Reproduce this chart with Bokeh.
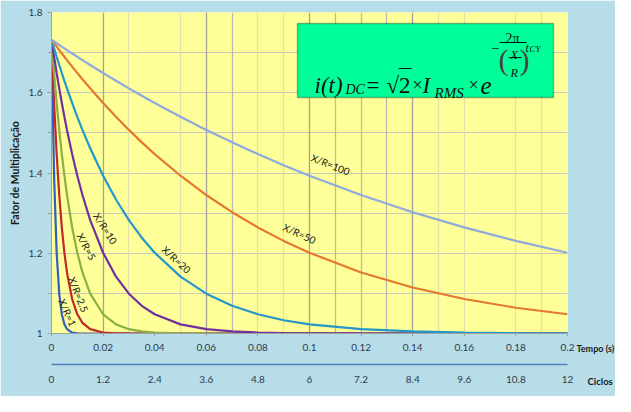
from bokeh.plotting import figure
from bokeh.models import (LinearAxis, Range1d, FixedTicker, NumeralTickFormatter,
                          Grid, Label, BoxAnnotation)
from bokeh.embed import file_html
from bokeh.resources import INLINE

# ---------------- data ----------------
t = [0, 0.001, 0.002, 0.003, 0.004, 0.005, 0.006, 0.008, 0.01, 0.012, 0.015,
     0.02, 0.025, 0.03, 0.035, 0.04, 0.05, 0.06, 0.07, 0.08, 0.09, 0.1,
     0.12, 0.14, 0.16, 0.18, 0.2]

series_names = ["X/R=1", "X/R=2.5", "X/R=5", "X/R=10", "X/R=20", "X/R=50", "X/R=100"]

xr1 = [1.732, 1.393, 1.201, 1.099, 1.048, 1.023, 1.011, 1.002, 1.0005, 1.0,
       1.0, 1.0, 1.0, 1.0, 1.0, 1.0, 1.0, 1.0, 1.0, 1.0, 1.0, 1.0,
       1.0, 1.0, 1.0, 1.0, 1.0]
xr25 = [1.732, 1.5745, 1.4471, 1.3451, 1.2644, 1.2012, 1.1521, 1.0859, 1.0479, 1.0265,
        1.0108, 1.0024, 1.0005, 1.0001, 1.0, 1.0, 1.0, 1.0, 1.0, 1.0, 1.0, 1.0,
        1.0, 1.0, 1.0, 1.0, 1.0]
xr5 = [1.732, 1.6492, 1.5745, 1.5074, 1.4471, 1.3932, 1.3451, 1.2644, 1.2012, 1.1521,
       1.0992, 1.0479, 1.0228, 1.0108, 1.0051, 1.0024, 1.0005, 1.0001, 1.0, 1.0, 1.0, 1.0,
       1.0, 1.0, 1.0, 1.0, 1.0]
xr10 = [1.732, 1.6896, 1.6492, 1.6110, 1.5745, 1.5401, 1.5074, 1.4471, 1.3932, 1.3451,
        1.2827, 1.2012, 1.1418, 1.0992, 1.0690, 1.0479, 1.0228, 1.0108, 1.0051, 1.0024,
        1.0011, 1.0005, 1.0001, 1.0, 1.0, 1.0, 1.0]
xr20 = [1.732, 1.7106, 1.6896, 1.6692, 1.6492, 1.6298, 1.6110, 1.5745, 1.5401, 1.5074,
        1.4616, 1.3932, 1.3339, 1.2827, 1.2388, 1.2012, 1.1418, 1.0992, 1.0690, 1.0479,
        1.0331, 1.0228, 1.0108, 1.0051, 1.0024, 1.0011, 1.0005]
xr50 = [1.732, 1.7234, 1.7148, 1.7064, 1.6979, 1.6896, 1.6814, 1.6652, 1.6492, 1.6336,
        1.6110, 1.5745, 1.5401, 1.5074, 1.4764, 1.4471, 1.3932, 1.3451, 1.3023, 1.2644,
        1.2308, 1.2012, 1.1521, 1.1146, 1.0859, 1.0642, 1.0479]
xr100 = [1.732, 1.7277, 1.7234, 1.7191, 1.7148, 1.7106, 1.7064, 1.6979, 1.6896, 1.6814,
         1.6692, 1.6492, 1.6298, 1.6110, 1.5925, 1.5745, 1.5401, 1.5074, 1.4764, 1.4471,
         1.4194, 1.3932, 1.3451, 1.3023, 1.2644, 1.2308, 1.2012]

time_ticks = [0, 0.02, 0.04, 0.06, 0.08, 0.1, 0.12, 0.14, 0.16, 0.18, 0.2]
cycle_ticks = [0, 1.2, 2.4, 3.6, 4.8, 6, 7.2, 8.4, 9.6, 10.8, 12]
y_ticks = [1, 1.2, 1.4, 1.6, 1.8]
y_minor = [1.1, 1.3, 1.5, 1.7]

# ---------------- styling ----------------
colors = ["#2f5fbf", "#c0282f", "#8cb043", "#7030a0", "#2596c8", "#e4782f", "#8eaadc"]
BLUE_BG = "#b7dde8"
YELLOW = "#ffff99"
TICK_COLOR = "#2e3a50"
FONT = "Lato"

# reference-pixel -> data helpers (for annotation placement only)
X0, X1, Y0, Y1 = 51, 567, 12, 333
def tx(px):
    return (px - X0) / (X1 - X0) * 0.2
def ty(py):
    return 1 + (Y1 - py) / (Y1 - Y0) * 0.8

p = figure(width=615, height=396, output_backend="svg", toolbar_location=None,
           x_range=Range1d(0, 0.2), y_range=Range1d(1, 1.8),
           min_border_left=51, min_border_right=48, min_border_top=12,
           min_border_bottom=63, x_axis_type=None)
p.background_fill_color = YELLOW
p.border_fill_color = BLUE_BG
p.outline_line_color = None
p.extra_x_ranges = {"cyc": Range1d(0, 12)}

# grids
p.ygrid.ticker = FixedTicker(ticks=[1.1, 1.2, 1.3, 1.4, 1.5, 1.6, 1.7])
p.ygrid.grid_line_color = "#c9c9bc"
p.xgrid.visible = False
for ticks, col in [([0.03, 0.05, 0.08, 0.09, 0.15, 0.16, 0.18, 0.19], "#e0e0a8"),
                   ([0.07, 0.11, 0.12, 0.13], "#babab2"),
                   ([0.02, 0.06, 0.1, 0.14], "#a2a29e")]:
    p.add_layout(Grid(dimension=0, ticker=FixedTicker(ticks=ticks),
                      grid_line_color=col, grid_line_width=1.3))

# y axis
ya = p.yaxis[0]
ya.ticker = FixedTicker(ticks=y_ticks, minor_ticks=y_minor)
ya.formatter = NumeralTickFormatter(format="0.[0]")
ya.axis_label = "Fator de Multiplicação"
ya.axis_label_text_font = FONT
ya.axis_label_text_font_style = "bold"
ya.axis_label_text_font_size = "10.5px"
ya.axis_label_text_color = "#1a1a1a"
ya.axis_label_standoff = 5
ya.major_label_text_font = FONT
ya.major_label_text_font_size = "10px"
ya.major_label_text_color = TICK_COLOR
ya.major_label_standoff = 5
ya.axis_line_color = "#a0a0a0"
ya.major_tick_line_color = "#a0a0a0"
ya.minor_tick_line_color = "#a0a0a0"
ya.major_tick_out = 4
ya.major_tick_in = 0
ya.minor_tick_out = 4
ya.minor_tick_in = 0

# time axis
xa = LinearAxis(ticker=FixedTicker(ticks=time_ticks),
                formatter=NumeralTickFormatter(format="0.[00]"))
xa.major_label_text_font = FONT
xa.major_label_text_font_size = "10px"
xa.major_label_text_color = TICK_COLOR
xa.major_label_standoff = 7
xa.axis_line_color = "#a0a0a0"
xa.major_tick_line_color = "#a0a0a0"
xa.major_tick_out = 3
xa.major_tick_in = 0
xa.minor_tick_line_color = None
p.add_layout(xa, "below")

# "Tempo (s)" title, placed in a side panel so it is not clipped to the frame
p.add_layout(Label(x=tx(576), y=ty(348), text="Tempo (s)", text_baseline="middle",
                   text_font=FONT, text_font_style="bold", text_font_size="9px",
                   text_color="#1a1a1a"), "below")

# cycles axis
ca = LinearAxis(x_range_name="cyc", ticker=FixedTicker(ticks=cycle_ticks),
                formatter=NumeralTickFormatter(format="0.[0]"))
ca.major_label_text_font = FONT
ca.major_label_text_font_size = "10px"
ca.major_label_text_color = TICK_COLOR
ca.major_label_standoff = 11
ca.axis_line_color = "#4f81bd"
ca.axis_line_width = 1.5
ca.major_tick_line_color = None
ca.minor_tick_line_color = None
ca.major_tick_out = 0
ca.major_tick_in = 0
p.add_layout(ca, "below")

p.add_layout(Label(x=tx(587), y=ty(381), text="Ciclos", text_baseline="middle",
                   text_font=FONT, text_font_style="bold", text_font_size="9.5px",
                   text_color="#1a1a1a"), "below")

# curves
all_series = [xr1, xr25, xr5, xr10, xr20, xr50, xr100]
for ys, col in zip(all_series, colors):
    p.line(t, ys, line_color=col, line_width=2.2)

# curve labels
label_pos = [(67, 312, -1.15), (78, 294, -1.19), (86, 246, -1.08), (105, 228, -1.0),
             (176, 259, -0.745), (299, 233, -0.43), (330, 164, -0.38)]
for name, (px, py, ang) in zip(series_names, label_pos):
    p.add_layout(Label(x=tx(px), y=ty(py), text=name, angle=ang,
                       text_align="center", text_baseline="middle",
                       text_font=FONT, text_font_size="10px", text_color="#1a1a1a"))

# equation box
p.add_layout(BoxAnnotation(left=tx(297), right=tx(553), top=ty(23), bottom=ty(97),
                           fill_color="#00ff99", fill_alpha=1.0,
                           line_color="black", line_width=1.5))

SERIF = "Liberation Serif"
def eq(px, py, txt, size, italic=True, color="#111111", baseline="alphabetic"):
    p.add_layout(Label(x=tx(px), y=ty(py), text=txt, text_font=SERIF,
                       text_font_size=f"{size}px",
                       text_font_style="italic" if italic else "normal",
                       text_baseline=baseline, text_align="left",
                       text_color=color))

def bar(x0, x1, py):
    p.add_layout(BoxAnnotation(left=tx(x0), right=tx(x1), top=ty(py - 0.5),
                               bottom=ty(py + 0.5), fill_color="#111111",
                               fill_alpha=1.0, line_color=None))

eq(314, 85, "i(t)", 23)
eq(345, 89, "DC", 14)
eq(366, 85, "=", 23, italic=False)
eq(386, 85, "√2", 23, italic=False)
bar(398, 411, 68)
eq(412, 84, "×", 18, italic=False)
eq(422, 85, "I", 23)
eq(434, 92, "RMS", 15)
eq(468, 84, "×", 18, italic=False)
eq(480, 85, "e", 25)
eq(491, 47, "−", 14, italic=False)
eq(505, 38, "2π", 14, italic=False)
bar(499, 526, 42)
eq(498, 59, "(", 30, italic=False, color="#444444", baseline="middle")
eq(519, 59, ")", 30, italic=False, color="#444444", baseline="middle")
eq(510, 54, "X", 12)
bar(508, 521, 57)
eq(510, 72, "R", 12)
eq(525, 47, "t", 12)
eq(529, 48, "CY", 9)

open("out.html", "w").write(file_html(p, INLINE))
